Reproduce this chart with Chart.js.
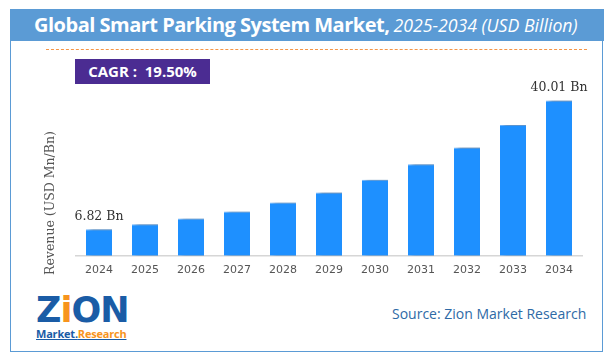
<!DOCTYPE html>
<html>
<head>
<meta charset="utf-8">
<script src="https://cdn.jsdelivr.net/npm/chart.js@4.4.1/dist/chart.umd.min.js"></script>
<style>
  body { margin: 0; background: #fff; }
  #wrap { position: relative; width: 614px; height: 364px; overflow: hidden; font-family: 'Open Sans', sans-serif; }
  #frame { position: absolute; left: 10px; top: 9px; width: 591px; height: 341px; border: 1.5px solid #5b9bd5; }
  #head { position: absolute; left: 10px; top: 9px; width: 594px; height: 32px; background: #5b9bd5; }
  #title { position: absolute; left: 34px; top: 11px; color: #fff; white-space: nowrap; line-height: normal; }
  #title b { font-size: 20px; font-weight: 700; letter-spacing: -0.5px; }
  #title i { font-size: 17.7px; font-weight: 400; letter-spacing: 0; }
  #dash { position: absolute; left: 46px; top: 49px; width: 541px; border-top: 1px dashed #f79646; }
  #cagr { position: absolute; left: 75px; top: 59px; width: 135px; height: 25px; background: #4b2c92; color: #fff;
          font-weight: 700; font-size: 15px; line-height: 25px; text-align: center; }
  #source { position: absolute; left: 392px; top: 304px; color: #2e6aa6; font-size: 14px; white-space: nowrap; }
  #logo { position: absolute; left: 36px; top: 292px; width: 100px; }
  #logo .big { font-family: 'DejaVu Sans', sans-serif; font-weight: 900; font-size: 35px; color: #1a5ca6; letter-spacing: -1px; line-height: 36px; }
  #logo .big span { color: #f7941d; }
  #logo .small { font-size: 11px; font-weight: 700; line-height: 12px; color: #1a5ca6; text-decoration: underline; letter-spacing: -0.2px; }
  #logo .small span { color: #f7941d; }
  canvas { position: absolute; left: 0; top: 0; }
</style>
</head>
<body>
<div id="wrap">
  <div id="head"></div>
  <div id="frame"></div>
  <div id="title"><b>Global Smart Parking System Market,</b> <i>2025-2034 (USD Billion)</i></div>
  <div id="dash"></div>
  <div id="cagr">CAGR :&nbsp; 19.50%</div>
  <div id="logo">
    <div class="big">Z<span>i</span>ON</div>
    <div class="small">Market.<span>Research</span></div>
  </div>
  <div id="source">Source: Zion Market Research</div>
  <canvas id="chart" width="614" height="364"></canvas>
</div>
<script>
const years = ['2024', '2025', '2026', '2027', '2028', '2029', '2030', '2031', '2032', '2033', '2034'];
const revenue = [6.82, 8.1, 9.6, 11.4, 13.7, 16.3, 19.6, 23.6, 27.9, 33.7, 40.01];
const yAxisTitle = 'Revenue (USD Mn/Bn)';

// shadow to the right of the bars
const barShadow = {
  id: 'barShadow',
  beforeDatasetsDraw(chart) {
    const ctx = chart.ctx;
    ctx.save();
    ctx.shadowColor = 'rgba(0,0,0,0.45)';
    ctx.shadowOffsetX = 4;
    ctx.shadowOffsetY = 0;
    ctx.shadowBlur = 4;
  },
  afterDatasetsDraw(chart) {
    const ctx = chart.ctx;
    ctx.restore();
    // value labels only on first and last bar
    const meta = chart.getDatasetMeta(0);
    ctx.save();
    ctx.fillStyle = '#333';
    ctx.font = '12.5px "DejaVu Serif", serif';
    ctx.textAlign = 'center';
    ctx.textBaseline = 'middle';
    [0, revenue.length - 1].forEach(i => {
      const bar = meta.data[i];
      ctx.fillText(revenue[i].toFixed(2) + ' Bn', bar.x, bar.y - 13);
    });
    ctx.restore();
  },
  afterDraw(chart) {
    const ctx = chart.ctx;
    ctx.save();
    ctx.translate(51, 203);
    ctx.rotate(-Math.PI / 2);
    ctx.fillStyle = '#555';
    ctx.font = '12.5px "DejaVu Serif", serif';
    ctx.textAlign = 'center';
    ctx.textBaseline = 'middle';
    ctx.fillText(yAxisTitle, 0, 0);
    ctx.restore();
  }
};

new Chart(document.getElementById('chart'), {
  type: 'bar',
  data: {
    labels: years,
    datasets: [
      {
        data: revenue,
        backgroundColor: '#1e90ff',
        borderColor: '#6fb6ff',
        borderWidth: { top: 1, left: 0, right: 0, bottom: 0 },
        borderSkipped: 'bottom',
        barPercentage: 0.565,
        categoryPercentage: 1,
      },
    ],
  },
  options: {
    responsive: false,
    animation: false,
    devicePixelRatio: 1,
    layout: { padding: { left: 76, right: 32, top: 81, bottom: 79 } },
    plugins: {
      legend: { display: false },
      tooltip: { enabled: false },
    },
    scales: {
      x: {
        grid: { display: true, color: 'transparent', drawTicks: false },
        border: { display: true, color: '#d6d6d6', width: 1.5 },
        ticks: { color: '#555', padding: 8, font: { family: 'DejaVu Sans', size: 11 } },
      },
      y: {
        display: false,
        min: 0,
        max: 45,
      },
    },
  },
  plugins: [barShadow],
});
</script>
</body>
</html>
